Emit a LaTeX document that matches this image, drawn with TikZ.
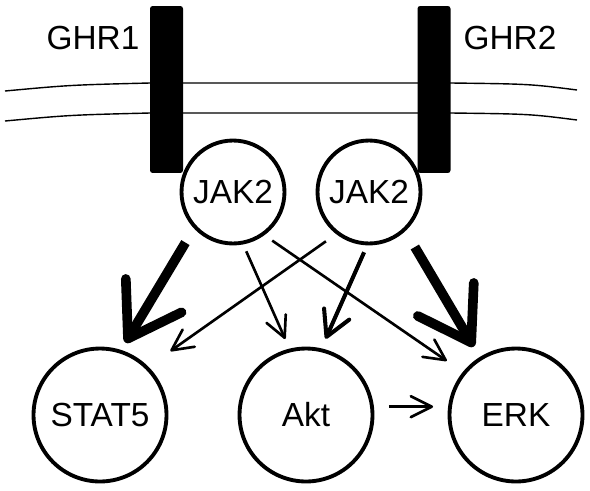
\documentclass[tikz,border=0pt]{standalone}
\usepackage{fontspec}
\setmainfont{Liberation Sans}
\usetikzlibrary{arrows.meta}

\begin{document}
\begin{tikzpicture}[x=0.02cm, y=-0.02cm,
    every node/.style={font=\fontsize{19}{22}\selectfont},
    receptor/.style={fill=black, rounded corners=1.5pt, inner sep=0pt,
      minimum width=0.66cm, minimum height=3.34cm},
    kinase/.style={circle, draw, line width=2.2pt, inner sep=0pt, minimum size=2.06cm},
    target/.style={circle, draw, line width=2.2pt, inner sep=0pt, minimum size=2.66cm},
    thin/.style={line width=1.5pt, -{Straight Barb[length=0.42cm, width=0.42cm, round]}},
    mid/.style={line width=2.3pt, -{Straight Barb[length=0.5cm, width=0.55cm, round]}},
    heavy/.style={line width=5.5pt, -{Straight Barb[length=1.0cm, width=1.3cm, round]}}]
    \useasboundingbox (0, 0) rectangle (590, 490);

    % membrane
    \draw[line width=0.8pt] (5, 91) .. controls (70, 85) .. (150, 83) -- (451, 83) .. controls (530, 84) .. (577, 90);
    \draw[line width=0.8pt] (5, 121) .. controls (70, 115) .. (150, 113) -- (451, 113) .. controls (530, 114) .. (577, 120);

    \node[receptor] (ghr1) at (166.5, 89.5) {};
    \node[receptor] (ghr2) at (434, 89.5) {};
    \node (lab1) at (93, 38) {GHR1};
    \node (lab2) at (510, 38) {GHR2};

    \node[kinase] (jakL) at (233, 192) {JAK2};
    \node[kinase] (jakR) at (369, 192) {JAK2};

    \node[target] (stat5) at (100, 415) {STAT5};
    \node[target] (akt) at (306, 415) {Akt};
    \node[target] (erk) at (516, 415) {ERK};

    \draw[heavy, shorten <=0.33cm, shorten >=0.17cm] (jakL.223) -- (stat5.72);
    \draw[heavy, shorten <=0.37cm, shorten >=0.24cm] (jakR.-47) -- (erk.122);
    \draw[thin, shorten <=0.15cm, shorten >=0.21cm] (jakL.-79) -- (akt.104);
    \draw[thin, shorten <=0.19cm, shorten >=0.39cm] (jakL.-54) -- (erk.141);
    \draw[thin, shorten <=0.25cm, shorten >=0.54cm] (jakR.232) -- (stat5.45);
    \draw[mid, shorten <=0.15cm, shorten >=0.21cm] (jakR.-92) -- (akt.77.5);
    \draw[thin, shorten <=0.3cm, shorten >=0.3cm] (akt.7) -- (erk.173);
\end{tikzpicture}
\end{document}
